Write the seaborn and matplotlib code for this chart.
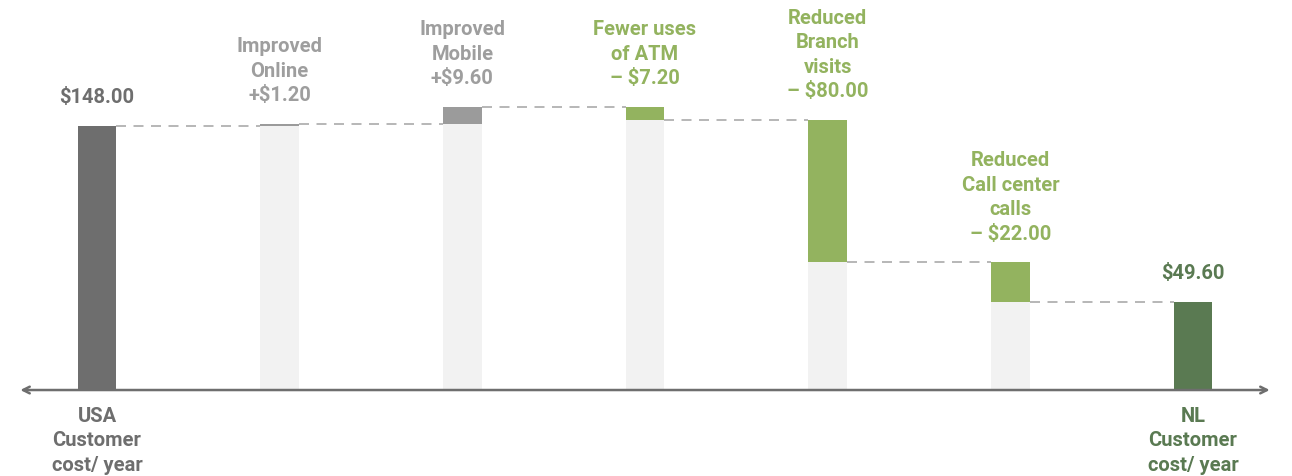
import matplotlib
matplotlib.use("Agg")
import matplotlib.pyplot as plt
import seaborn as sns
import pandas as pd
import numpy as np

# ---- data ----
categories = ["USA", "Online", "Mobile", "ATM", "Branch", "Call", "NL"]
start_value = 148.00
deltas = [1.20, 9.60, -7.20, -80.00, -22.00]
end_value = 49.60
top_labels = ["$148.00", "Improved\nOnline\n+$1.20", "Improved\nMobile\n+$9.60",
              "Fewer uses\nof ATM\n– $7.20", "Reduced\nBranch\nvisits\n– $80.00",
              "Reduced\nCall center\ncalls\n– $22.00", "$49.60"]
bottom_labels = ["USA\nCustomer\ncost/ year", "", "", "", "", "", "NL\nCustomer\ncost/ year"]

# ---- derived waterfall geometry ----
running = [start_value]
for d in deltas:
    running.append(running[-1] + d)
tops = [start_value]
bottoms = [0.0]
for i, d in enumerate(deltas):
    prev = running[i]
    new = running[i + 1]
    tops.append(max(prev, new))
    bottoms.append(min(prev, new))
tops.append(end_value)
bottoms.append(0.0)
levels = running + [end_value]  # level after each bar

c_usa = "#6e6e6e"
c_up = "#9b9b9b"
c_down = "#93b35f"
c_nl = "#5a7a52"
c_light = "#f2f2f2"
bar_colors = [c_usa, c_up, c_up, c_down, c_down, c_down, c_nl]
text_colors = [c_usa, "#9e9e9e", "#9e9e9e", c_down, c_down, c_down, c_nl]

df = pd.DataFrame({"cat": categories, "top": tops, "bottom": bottoms})

sns.set_style("white")
plt.rcParams["font.family"] = ["Roboto", "DejaVu Sans"]

fig = plt.figure(figsize=(12.92, 4.77), dpi=100)
ax = fig.add_axes([0, 0, 1, 1])

W = 0.21
sns.barplot(data=df, x="cat", y="top", hue="cat", order=categories,
            palette=dict(zip(categories, bar_colors)), legend=False,
            width=W, saturation=1, ax=ax, linewidth=0)
sns.barplot(data=df, x="cat", y="bottom", hue="cat", order=categories,
            palette={c: c_light for c in categories}, legend=False,
            width=W, saturation=1, ax=ax, linewidth=0)

# dashed connectors
for i in range(len(categories) - 1):
    ax.plot([i + W / 2, i + 1 - W / 2], [levels[i], levels[i]],
            color="#aaaaaa", lw=1.2, linestyle=(0, (6, 4.5)), zorder=1)

# axis arrow
ax.annotate("", xy=(6.42, 0), xytext=(-0.42, 0),
            arrowprops=dict(arrowstyle="<->", color="#6e6e6e", lw=1.8,
                            mutation_scale=12, shrinkA=0, shrinkB=0))

# labels
FS = 14.5
LS = 1.36
for i, (lab, col) in enumerate(zip(top_labels, text_colors)):
    ax.text(i, tops[i] + 11, lab, ha="center", va="bottom", color=col,
            fontsize=FS, fontweight="bold", linespacing=LS)
for i, lab in enumerate(bottom_labels):
    if lab:
        ax.text(i, -9, lab, ha="center", va="top", color=text_colors[i],
                fontsize=FS, fontweight="bold", linespacing=LS)

ax.set_xlim(-0.531, 6.542)
ax.set_ylim(-48.2, 219.2)
ax.axis("off")

fig.savefig("out.png", dpi=100)
